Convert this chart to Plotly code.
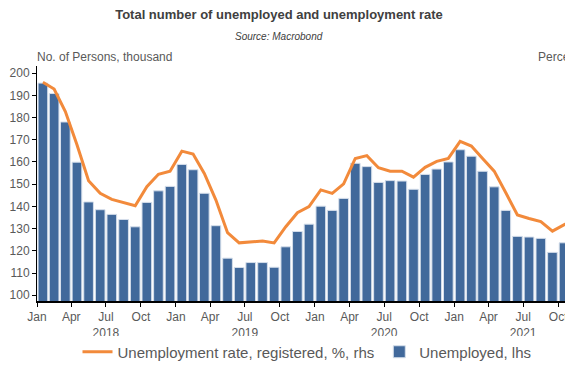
import plotly.graph_objects as go

# Monthly data, Jan 2018 - Nov 2021
months = [f"{y}-{m:02d}-01" for y in range(2018, 2022) for m in range(1, 13)][:47]

unemployed_thousand = [
    195.5, 190.8, 178.0, 159.9, 142.0, 138.5, 136.4, 134.1, 130.8, 141.8, 147.0, 149.0,
    158.9, 156.5, 145.9, 131.3, 116.7, 112.5, 114.7, 114.7, 112.6, 121.8, 128.7, 132.0,
    140.1, 138.2, 143.6, 159.4, 157.9, 150.8, 151.6, 151.4, 147.7, 154.4, 156.8, 160.0,
    165.5, 162.6, 155.8, 148.8, 138.2, 126.5, 126.2, 125.6, 119.3, 123.6, 125.9,
]

unemployment_rate_pct = [
    11.71, 11.50, 10.79, 9.74, 8.61, 8.21, 8.02, 7.91, 7.82, 8.42, 8.81, 8.91,
    9.54, 9.45, 8.84, 8.00, 6.97, 6.65, 6.68, 6.71, 6.65, 7.16, 7.60, 7.79,
    8.32, 8.21, 8.51, 9.31, 9.40, 9.02, 8.91, 8.91, 8.72, 9.03, 9.22, 9.31,
    9.85, 9.70, 9.31, 8.91, 8.23, 7.53, 7.42, 7.32, 7.02, 7.22, 7.42,
]

tick_dates = [f"{y}-{m:02d}-01" for y in range(2018, 2022) for m in (1, 4, 7, 10)]
month_names = {"01": "Jan", "04": "Apr", "07": "Jul", "10": "Oct"}
tick_labels = [
    f"{month_names[d[5:7]]}<br>{d[:4]}" if d[5:7] == "07" else month_names[d[5:7]]
    for d in tick_dates
]

GRAY = "#595959"
DARK = "#404040"
FONT = "Liberation Sans, Arial, sans-serif"

# page has an 8px body margin; figure placed at (8, 8)
W, H = 565, 359
ML, MT, MB = 29, 58, 66
PW, PH = W - ML, H - MT - MB


def px_x(page_x):
    return (page_x - 8 - ML) / PW


def px_y(page_y):
    return 1 - (page_y - 8 - MT) / PH


fig = go.Figure()
fig.add_trace(go.Scatter(
    x=months, y=unemployment_rate_pct, yaxis="y2",
    name="Unemployment rate, registered, %, rhs",
    mode="lines", line=dict(color="#f28a3b", width=3),
    xperiod="M1", xperiodalignment="middle",
))
fig.add_trace(go.Bar(
    x=months, y=unemployed_thousand, yaxis="y",
    name="Unemployed, lhs",
    marker=dict(color="#41699b", line=dict(color="#d6dfeb", width=1)),
    xperiod="M1", xperiodalignment="middle",
))

fig.update_layout(
    width=W, height=H,
    margin=dict(l=ML, r=0, t=MT, b=MB, autoexpand=False),
    paper_bgcolor="white", plot_bgcolor="white",
    font=dict(family=FONT, size=12, color=GRAY),
    bargap=0.14,
    showlegend=True,
    legend=dict(orientation="h", x=px_x(307), xanchor="center", y=px_y(352), yanchor="middle",
                font=dict(size=15, color=GRAY), itemwidth=30, traceorder="normal"),
    title=dict(text="<b>Total number of unemployed and unemployment rate</b>",
               x=(279 - 8) / W, xanchor="center", y=1 - (14 - 8) / H, yanchor="middle",
               font=dict(size=13, color=DARK, family=FONT)),
    xaxis=dict(type="date", range=["2018-01-01", "2021-11-09"], automargin=False,
               tickvals=tick_dates, ticktext=tick_labels,
               ticks="outside", ticklen=4, tickcolor="black", tickwidth=1,
               showline=True, linecolor="black", linewidth=2,
               showgrid=False, zeroline=False,
               tickfont=dict(size=12, color=GRAY)),
    yaxis=dict(range=[97.4, 203.2], dtick=10, tick0=100, automargin=False,
               ticks="outside", ticklen=4, tickcolor="black", tickwidth=1,
               showline=True, linecolor="black", linewidth=1,
               showgrid=False, zeroline=False,
               tickfont=dict(size=12, color=GRAY)),
    yaxis2=dict(overlaying="y", side="right", range=[4.818, 12.224],
                visible=False, showgrid=False, automargin=False),
    annotations=[
        dict(text="<i>Source: Macrobond</i>", xref="paper", yref="paper",
             x=px_x(279), y=px_y(36), xanchor="center", yanchor="middle",
             showarrow=False, font=dict(size=10, color=DARK)),
        dict(text="No. of Persons, thousand", xref="paper", yref="paper",
             x=px_x(35), y=px_y(57), xanchor="left", yanchor="middle",
             showarrow=False, font=dict(size=12, color=GRAY)),
        dict(text="Perce", xref="paper", yref="paper",
             x=px_x(572), y=px_y(57), xanchor="right", yanchor="middle",
             showarrow=False, font=dict(size=12, color=GRAY)),
    ],
)

fig.write_html("out.html")
